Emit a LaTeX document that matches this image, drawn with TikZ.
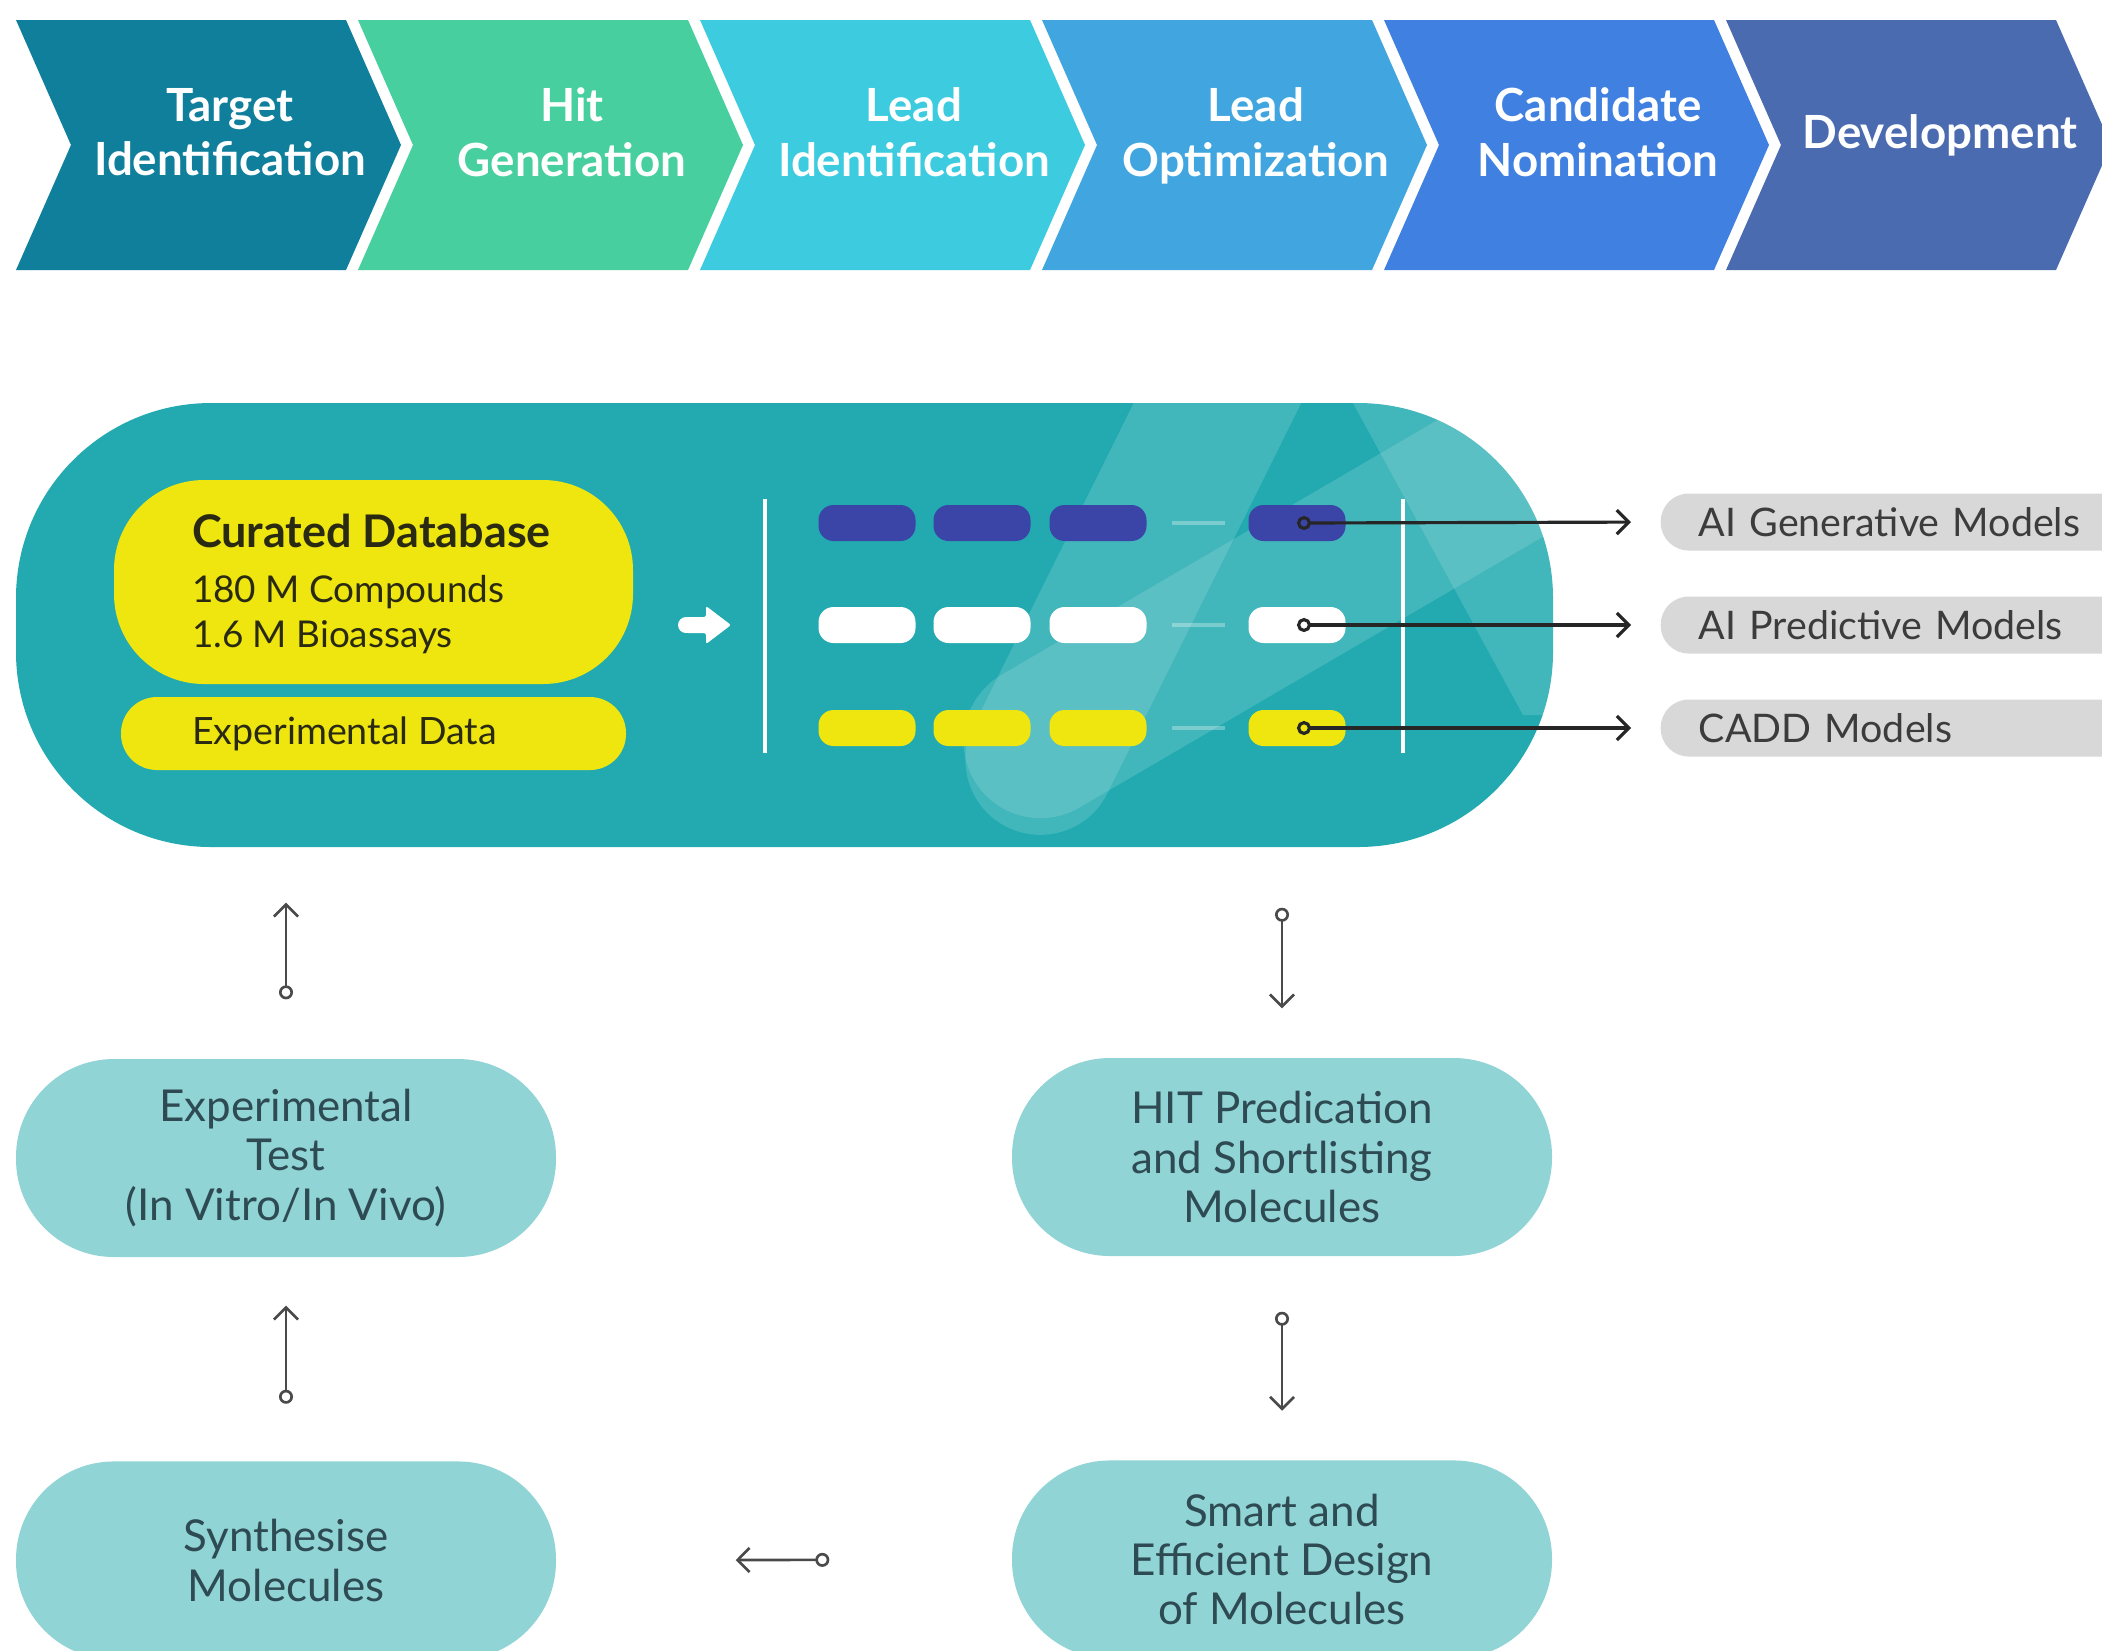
\documentclass[tikz,border=0pt]{standalone}
\usepackage{fontspec}
\setmainfont{Lato}
\usetikzlibrary{positioning, arrows.meta}

\definecolor{chevA}{HTML}{0F7F9C}
\definecolor{chevB}{HTML}{47CFA0}
\definecolor{chevC}{HTML}{3DCCDF}
\definecolor{chevD}{HTML}{41A6E0}
\definecolor{chevE}{HTML}{3F80E0}
\definecolor{chevF}{HTML}{4B6BB0}
\definecolor{panelteal}{HTML}{22AAB0}
\definecolor{dbyellow}{HTML}{EEE60E}
\definecolor{dbtext}{HTML}{2A2A12}
\definecolor{molblue}{HTML}{3B45A8}
\definecolor{boxgray}{HTML}{D8D8D8}
\definecolor{modeltext}{HTML}{3C3C3C}
\definecolor{stepteal}{HTML}{90D4D6}
\definecolor{steptext}{HTML}{2E4A52}
\definecolor{linegray}{HTML}{4A4A4A}

\tikzset{
  chevtext/.style={text=white, align=center, text depth=0pt, font=\bfseries\fontsize{13}{15.5}\selectfont},
  bead/.style={minimum width=0.97cm, minimum height=0.36cm, rounded corners=0.15cm, inner sep=0pt},
  modelbox/.style={fill=boxgray, rounded corners=0.28cm, minimum height=0.57cm, text width=4.6cm,
    inner xsep=0.38cm, align=left, anchor=west, text=modeltext, font=\fontsize{11.2}{12.5}\selectfont},
  stepbox/.style={fill=stepteal, rounded corners=0.98cm, minimum width=5.4cm, minimum height=1.98cm,
    align=center, text=steptext, font=\fontsize{12.5}{14}\selectfont},
  flow/.style={draw=linegray, line width=0.75pt,
    {Circle[open, length=1.4mm, width=1.4mm]}-{Straight Barb[length=1.2mm, width=2.4mm]}},
  link/.style={draw=black!85, line width=0.9pt, shorten >=0.29cm,
    {Circle[open, length=1.4mm, width=1.4mm]}-{Straight Barb[length=1.2mm, width=2.4mm]}},
  glass/.style={fill=white, opacity=0.14},
}

\begin{document}
\begin{tikzpicture}
\clip (0,0) rectangle (21.02,-16.5);
\fill[white] (0,0) rectangle (21.02,-16.5);

% stage chevrons
\foreach \i/\col/\txt in {0/chevA/{Target\\Identification}, 1/chevB/{Hit\\Generation},
    2/chevC/{Lead\\Identification}, 3/chevD/{Lead\\Optimization},
    4/chevE/{Candidate\\Nomination}, 5/chevF/{Development}} {
  \pgfmathsetmacro{\xl}{0.16+3.42*\i}
  \fill[\col] (\xl,-0.2) -- ++(3.3,0) -- ++(0.55,-1.25) -- ++(-0.55,-1.25) -- ++(-3.3,0) -- ++(0.55,1.25) -- cycle;
  \node[chevtext] (stage\i) at (\xl+2.14,-1.32) {\txt};
}

% main panel
\node[fill=panelteal, rounded corners=1.95cm, minimum width=15.37cm, minimum height=4.44cm, inner sep=0pt] (panel) at (7.845,-6.25) {};
\begin{scope}
  \clip[rounded corners=1.95cm] (panel.south west) rectangle (panel.north east);
  \begin{scope}[shift={(10.07,-8.27)}, rotate=63.6]
    \fill[glass, rounded corners=0.75cm] (0,-0.75) rectangle (7,0.75);
  \end{scope}
  \begin{scope}[shift={(9.74,-7.80)}, rotate=30.3]
    \fill[glass, rounded corners=0.77cm] (0,-0.77) rectangle (8,0.77);
  \end{scope}
  \fill[glass] (13.53,-4.03) -- (15.23,-7.15) -- (16,-7.15) -- (16,-4.03) -- cycle;
\end{scope}

% data boxes
\node[fill=dbyellow, rounded corners=0.9cm, minimum width=5.19cm, minimum height=2.04cm, inner sep=0pt] (curated) at (3.735,-5.82) {};
\node[anchor=west, align=left, text=dbtext, inner sep=0pt, font=\fontsize{10.5}{12.8}\selectfont] (curatedtext) at ([xshift=0.78cm, yshift=-0.02cm]curated.west)
  {{\bfseries\fontsize{12.8}{15}\selectfont Curated Database}\\[3pt]180 M Compounds\\1.6 M Bioassays};
\node[fill=dbyellow, rounded corners=0.36cm, minimum width=5.05cm, minimum height=0.73cm, inner sep=0pt] (expdata) at (3.735,-7.335) {};
\node[anchor=west, text=dbtext, inner sep=0pt, font=\fontsize{10.7}{12.8}\selectfont] (expdatatext) at ([xshift=0.71cm]expdata.west) {Experimental Data};

% feed arrow
\fill[white, rounded corners=0.6pt] (6.86,-6.17) -- (7.06,-6.17) -- (7.06,-6.06) -- (7.31,-6.25)
  -- (7.06,-6.44) -- (7.06,-6.33) -- (6.86,-6.33) -- cycle;
\fill[white] (6.86,-6.25) circle (0.08);

\draw[white, line width=1.2pt] (7.65,-4.99) -- (7.65,-7.53);
\draw[white, line width=1.2pt] (14.03,-4.99) -- (14.03,-7.53);

% molecule rows
\foreach \row/\y/\col in {gen/5.23/molblue, pred/6.25/white, cadd/7.28/dbyellow} {
  \foreach \x [count=\k] in {8.67,9.82,10.98,12.97}
    \node[bead, fill=\col] (\row-\k) at (\x,-\y) {};
  \draw[white, opacity=0.3, line width=1pt] (11.72,-\y) -- (12.25,-\y);
}

% model outputs
\node[modelbox] (gen) at (16.6,-5.22) {AI Generative Models};
\node[modelbox] (pred) at (16.6,-6.25) {AI Predictive Models};
\node[modelbox] (cadd) at (16.6,-7.28) {CADD Models};
\foreach \m in {gen,pred,cadd}
  \draw[link] (\m-4.center) -- (\m.west);

% cycle steps
\node[stepbox] (exptest) at (2.86,-11.58) {Experimental\\Test\\(In Vitro/In Vivo)};
\node[stepbox, below=2.03cm of exptest] (synth) {Synthesise\\Molecules};
\node[stepbox] (hitpred) at (12.82,-11.57) {HIT Predication\\and Shortlisting\\Molecules};
\node[stepbox, below=2.03cm of hitpred] (design) {Smart and\\Efficient Design\\of Molecules};

\draw[flow, shorten <=0.59cm, shorten >=0.55cm] (exptest.north) -- (exptest.north |- panel.south);
\draw[flow, shorten <=0.60cm, shorten >=0.49cm] (hitpred.north |- panel.south) -- (hitpred.north);
\draw[flow, shorten <=0.55cm, shorten >=0.49cm] (hitpred.south) -- (design.north);
\draw[flow, shorten <=0.57cm, shorten >=0.48cm] (synth.north) -- (exptest.south);
\draw[flow, shorten <=1.82cm, shorten >=1.79cm] (design.west) -- (synth.east);
\end{tikzpicture}
\end{document}
